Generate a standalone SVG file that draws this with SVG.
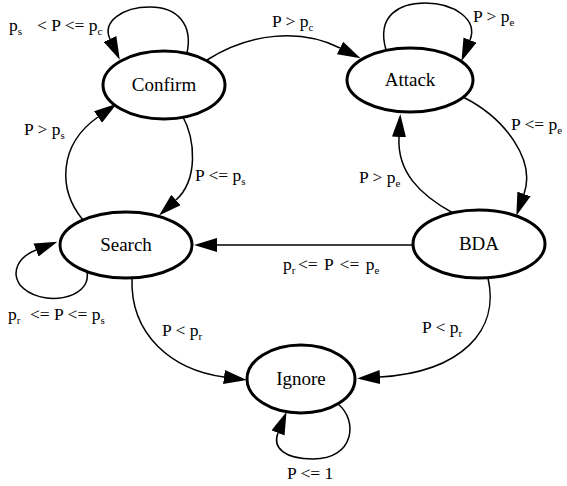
<svg xmlns="http://www.w3.org/2000/svg" width="567" height="486" viewBox="0 0 567 486">
<style>
.node ellipse{fill:#fff;stroke:#000;stroke-width:3}
.nt{font-family:"Liberation Serif","Times New Roman",serif;font-size:19px;text-anchor:middle;fill:#000}
.edge path{fill:none;stroke:#000;stroke-width:1.5}
.lb{font-family:"Liberation Serif","Times New Roman",serif;font-size:17.5px;fill:#000}
.sb{font-size:11px}
.ws{word-spacing:2px}
</style>
<defs>
<marker id="ah" markerUnits="userSpaceOnUse" markerWidth="23" markerHeight="14" refX="0" refY="7" orient="auto" viewBox="0 0 23 14">
<path d="M0,0 L23,7 L0,14 z" fill="#000"/>
</marker>
</defs>
<rect width="567" height="486" fill="#fff"/>
<g id="edges" class="edge">
<path d="M187,53 C193,25 178,7 150,7 C122,7 102,22 110,39" marker-end="url(#ah)"/>
<path d="M207,60 C250,33 300,28 340,48" marker-end="url(#ah)"/>
<path d="M386,50 C376,15 400,3 425,3 C455,3 478,20 470,40" marker-end="url(#ah)"/>
<path d="M463,97 C505,118 536,160 524,194" marker-end="url(#ah)"/>
<path d="M453,213 C420,195 397,172 399,137" marker-end="url(#ah)"/>
<path d="M182,115 C196,140 198,180 176,200" marker-end="url(#ah)"/>
<path d="M83,220 C58,190 58,145 98,117" marker-end="url(#ah)"/>
<path d="M87,272 C92,300 40,308 20,285 C11,272 18,257 36,250" marker-end="url(#ah)"/>
<path d="M413,245 L217,245" marker-end="url(#ah)"/>
<path d="M132,278 C130,335 172,370 224,377" marker-end="url(#ah)"/>
<path d="M488,278 C500,330 462,372 380,377" marker-end="url(#ah)"/>
<path d="M338,404 C358,420 355,459 313,459 C285,459 272,448 278,433" marker-end="url(#ah)"/>
</g>
<g id="labels">
<text class="lb" x="9" y="31">p<tspan class="sb" dy="4">s</tspan><tspan x="37" dy="-4">&lt; P &lt;= p</tspan><tspan class="sb" dy="4">c</tspan></text>
<text class="lb" x="272" y="27">P &gt; p<tspan class="sb" dy="4">c</tspan></text>
<text class="lb" x="473" y="22">P &gt; p<tspan class="sb" dy="4">e</tspan></text>
<text class="lb" x="511" y="130">P &lt;= p<tspan class="sb" dy="4">e</tspan></text>
<text class="lb" x="359" y="183">P &gt; p<tspan class="sb" dy="4">e</tspan></text>
<text class="lb" x="195" y="181">P &lt;= p<tspan class="sb" dy="4">s</tspan></text>
<text class="lb" x="24" y="135">P &gt; p<tspan class="sb" dy="4">s</tspan></text>
<text class="lb" x="8" y="320">p<tspan class="sb" dy="4">r</tspan><tspan x="30" dy="-4">&lt;= P &lt;= p</tspan><tspan class="sb" dy="4">s</tspan></text>
<text class="lb ws" x="283" y="270">p<tspan class="sb" dy="4">r</tspan><tspan x="298" dy="-4">&lt;= P &lt;= p</tspan><tspan class="sb" dy="4">e</tspan></text>
<text class="lb" x="162" y="336">P &lt; p<tspan class="sb" dy="4">r</tspan></text>
<text class="lb" x="422" y="333">P &lt; p<tspan class="sb" dy="4">r</tspan></text>
<text class="lb" x="287" y="479">P &lt;= 1</text>
</g>
<g id="confirm" class="node"><ellipse cx="164" cy="85" rx="61" ry="34"/><text class="nt" x="164" y="91">Confirm</text></g>
<g id="attack" class="node"><ellipse cx="410" cy="80" rx="63" ry="32"/><text class="nt" x="410" y="86">Attack</text></g>
<g id="search" class="node"><ellipse cx="126" cy="245" rx="66" ry="33"/><text class="nt" x="126" y="251">Search</text></g>
<g id="bda" class="node"><ellipse cx="479" cy="244" rx="66" ry="34"/><text class="nt" x="479" y="250">BDA</text></g>
<g id="ignore" class="node"><ellipse cx="301" cy="379" rx="54" ry="34"/><text class="nt" x="301" y="385">Ignore</text></g>
</svg>
